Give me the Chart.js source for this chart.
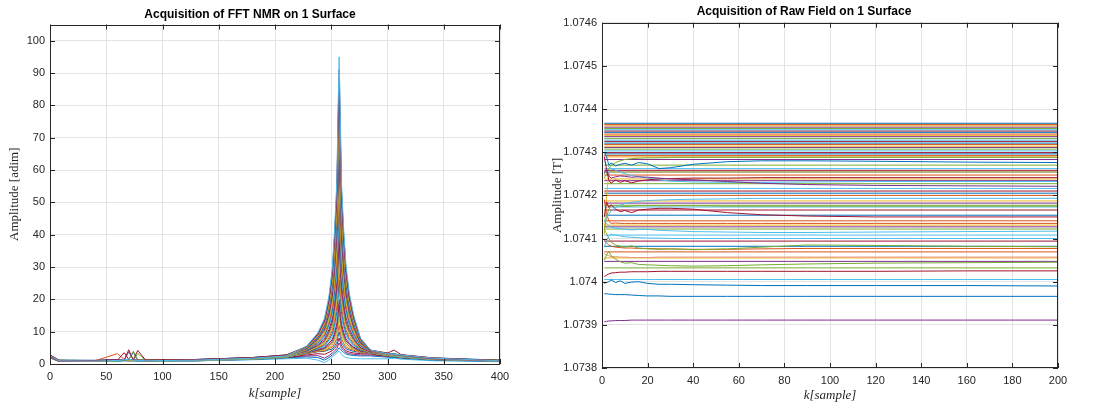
<!DOCTYPE html>
<html>
<head>
<meta charset="utf-8">
<script src="https://cdn.jsdelivr.net/npm/chart.js@4.4.0/dist/chart.umd.min.js"></script>
<style>
  html, body { margin: 0; padding: 0; background: #fff; }
  #wrap { position: relative; width: 1101px; height: 405px; }
  .box { position: absolute; top: 0; height: 405px; }
  #leftBox { left: 0; width: 550px; }
  #rightBox { left: 550px; width: 551px; }
</style>
</head>
<body>
<div id="wrap">
  <div class="box" id="leftBox"><canvas id="fftChart"></canvas></div>
  <div class="box" id="rightBox"><canvas id="rawChart"></canvas></div>
</div>
<script>
// ---- left plot: FFT NMR, sample positions shared by every line
const fftK = [0, 3, 8, 40, 60, 66, 70, 74, 78, 85, 130, 180, 210,
              228, 238, 244, 248, 251, 253, 255, 256, 257, 258, 259, 261, 263, 266, 270, 276, 285,
              300, 306, 312, 340, 400];

const fftLine01 = [2.5,2.0,1.0,0.9,1.1,1.3,1.5,1.2,1.1,1.0,1.2,1.8,2.5,  5.5,9.6,14.1,21.1,29.9,41.9,56.8,77.7,95,77.7,56.8,41.9,30.9,22,15,8,4.3,  3.2,3.0,2.8,1.8,1.0];
const fftLine02 = [2.8,2.2,1.1,1.0,1.2,3.5,1.4,1.3,4.2,1.2,1.4,2.0,2.8,  5.4,9.3,13.6,20.3,28.7,40.2,54.5,74.5,91,74.5,54.5,40.2,29.7,21.1,14.5,7.8,4.3,  3.4,4.3,2.9,1.9,1.1];
const fftLine03 = [2.2,1.8,0.9,1.1,1.4,1.2,3.8,1.3,1.2,1.1,1.3,1.9,2.7,  5.3,9.1,13.2,19.7,27.8,38.9,52.7,72,88,72,52.7,38.9,28.7,20.5,14.1,7.6,4.2,  3.2,3.0,2.7,1.7,1.0];
const fftLine04 = [2.6,2.0,1.2,1.0,1.0,1.2,1.3,4.0,1.3,1.2,1.2,1.7,2.4,  5.2,8.9,12.9,19.1,26.9,37.6,50.9,69.6,85,69.6,50.9,37.6,27.8,19.9,13.7,7.5,4.2,  3.1,2.9,2.7,1.7,1.1];
const fftLine05 = [2.4,1.9,1.0,0.9,1.1,1.3,1.2,1.1,1.2,1.1,1.3,1.9,2.6,  5.1,8.7,12.5,18.5,26,36.3,49.1,67.1,82,67.1,49.1,36.3,26.9,19.3,13.3,7.3,4.2,  3.2,3.0,2.7,1.8,1.0];
const fftLine06 = [2.1,1.7,0.8,1.0,3.2,1.4,1.2,1.3,1.1,1.0,1.2,1.8,2.5,  5.1,8.5,12.1,17.9,25.1,35,47.4,64.7,79,64.7,47.4,35,26,18.6,12.9,7.2,4.1,  3.0,2.8,2.6,1.6,1.0];
const fftLine07 = [2.7,2.1,1.1,1.1,1.2,1.1,1.3,3.6,1.2,1.1,1.4,2.0,2.7,  5.0,8.3,11.8,17.3,24.2,33.8,45.6,62.2,76,62.2,45.6,33.8,25,18,12.5,7,4.1,  3.3,3.1,2.8,1.8,1.1];
const fftLine08 = [2.3,1.8,0.9,0.9,1.0,1.2,1.1,1.2,1.3,1.0,1.1,1.7,2.4,  4.9,8.1,11.4,16.8,23.3,32.5,43.8,59.8,73,59.8,43.8,32.5,24.1,17.4,12.1,6.9,4.1,  3.0,2.8,2.5,1.6,1.0];
const fftLine09 = [2.5,2.0,1.0,1.0,1.1,1.3,4.4,1.2,1.1,1.2,1.3,1.9,2.6,  4.8,7.9,11.1,16.2,22.5,31.2,42.1,57.3,70,57.3,42.1,31.2,23.2,16.8,11.7,6.7,4.0,  3.2,3.0,2.7,1.7,1.1];
const fftLine10 = [2.0,1.6,0.8,0.9,1.2,1.1,1.2,1.3,1.2,1.0,1.2,1.8,2.5,  4.7,7.6,10.6,15.4,21.3,29.5,39.7,54.1,66,54.1,39.7,29.5,22,16,11.2,6.5,4.0,  3.1,2.8,2.6,1.6,1.0];
const fftLine11 = [2.6,2.1,1.1,1.0,1.0,1.2,1.3,1.1,3.3,1.1,1.3,1.9,2.6,  4.6,7.3,10.1,14.6,20.1,27.8,37.4,50.8,62,50.8,37.4,27.8,20.7,15.1,10.7,6.3,4.0,  3.2,3.0,2.8,1.8,1.1];
const fftLine12 = [2.2,1.7,0.9,1.1,1.1,1.3,1.2,1.2,1.1,1.1,1.2,1.7,2.4,  4.5,7.1,9.6,13.8,18.9,26.1,35,47.5,58,47.5,35,26.1,19.5,14.3,10.2,6.1,3.9,  2.9,2.7,2.5,1.6,1.0];
const fftLine13 = [2.4,1.9,1.0,1.0,1.2,1.2,1.1,1.3,1.2,1.0,1.3,1.8,2.5,  4.4,6.8,9.1,13,17.7,24.4,32.7,44.3,54,44.3,32.7,24.4,18.3,13.5,9.7,5.9,3.9,  3.1,2.9,2.6,1.7,1.1];
const fftLine14 = [2.7,2.2,1.2,1.1,1.3,1.4,1.2,1.2,1.3,1.2,1.4,2.0,2.8,  4.3,6.5,8.7,12.3,16.5,22.7,30.3,41,50,41,30.3,22.7,17,12.6,9.1,5.7,3.8,  3.3,3.1,2.8,1.9,1.2];
const fftLine15 = [2.1,1.6,0.8,0.9,1.0,1.1,1.2,1.1,1.0,1.0,1.1,1.6,2.3,  4.2,6.2,8.2,11.5,15.3,21,27.9,37.8,46,37.8,27.9,21,15.8,11.8,8.6,5.4,3.8,  2.9,2.6,2.4,1.5,0.9];
const fftLine16 = [2.3,1.8,1.0,1.0,1.1,1.2,1.3,1.2,1.1,1.1,1.2,1.7,2.4,  4.1,6.0,7.7,10.7,14.1,19.2,25.6,34.5,42,34.5,25.6,19.2,14.6,11,8.1,5.2,3.7,  3.0,2.8,2.5,1.6,1.0];
const fftLine17 = [2.5,2.0,1.1,1.1,1.2,1.1,1.2,1.3,1.2,1.1,1.3,1.8,2.5,  4.0,5.7,7.2,9.9,13,17.5,23.2,31.2,38,31.2,23.2,17.5,13.3,10.1,7.6,5.0,3.7,  3.1,2.9,2.6,1.7,1.1];
const fftLine18 = [2.0,1.5,0.8,0.9,1.0,1.1,1.1,1.0,1.1,0.9,1.1,1.6,2.2,  3.9,5.5,6.9,9.3,12.1,16.2,21.5,28.8,35,28.8,21.5,16.2,12.4,9.5,7.2,4.9,3.7,  2.8,2.5,2.3,1.5,0.9];
const fftLine19 = [2.4,1.9,1.0,1.0,1.1,1.2,1.2,1.2,1.2,1.0,1.2,1.7,2.3,  3.8,5.3,6.5,8.7,11.2,15,19.7,26.3,32,26.3,19.7,15,11.5,8.9,6.8,4.7,3.6,  3.0,2.7,2.5,1.6,1.0];
const fftLine20 = [2.2,1.7,0.9,1.0,1.1,1.1,1.2,1.1,1.1,1.0,1.1,1.6,2.2,  3.7,5.1,6.1,8.1,10.3,13.7,17.9,23.9,29,23.9,17.9,13.7,10.6,8.2,6.4,4.6,3.6,  2.9,2.6,2.4,1.5,0.9];
const fftLine21 = [2.6,2.0,1.1,1.0,1.0,1.2,1.1,1.2,1.1,1.1,1.2,1.7,2.3,  3.6,4.9,5.8,7.5,9.4,12.4,16.2,21.4,26,21.4,16.2,12.4,9.6,7.6,6.0,4.4,3.6,  2.9,2.7,2.4,1.6,1.0];
const fftLine22 = [2.1,1.6,0.9,0.9,1.0,1.1,1.0,1.1,1.0,0.9,1.0,1.5,2.1,  3.5,4.7,5.4,7.0,8.5,11.1,14.4,19,23,19,14.4,11.1,8.7,7.0,5.6,4.3,3.5,  2.7,2.4,2.2,1.4,0.9];
const fftLine23 = [2.3,1.8,1.0,1.0,1.1,1.2,1.3,1.2,1.1,1.1,1.2,1.7,2.4,  3.5,4.5,5.1,6.4,7.6,9.8,12.6,16.5,20,16.5,12.6,9.8,7.8,6.4,5.2,4.1,3.5,  2.8,2.6,2.3,1.5,1.0];
const fftLine24 = [2.5,2.0,1.1,1.1,1.2,1.1,1.2,1.3,1.2,1.1,1.3,1.8,2.5,  3.4,4.3,4.8,6.0,7.0,9.0,11.5,14.9,18,14.9,11.5,9.0,7.2,6.0,5.0,4.0,3.5,  2.9,2.7,2.4,1.6,1.1];
const fftLine25 = [2.0,1.5,0.8,0.9,1.0,1.1,1.1,1.0,1.1,0.9,1.1,1.5,2.1,  3.4,4.2,4.6,5.6,6.4,8.1,10.3,13.3,16,13.3,10.3,8.1,6.6,5.5,4.7,3.9,3.4,  2.6,2.4,2.1,1.4,0.9];
const fftLine26 = [2.4,1.9,1.0,1.0,1.1,1.2,1.2,1.2,1.2,1.0,1.2,1.7,2.3,  3.3,4.1,4.3,5.2,5.8,7.3,9.1,11.6,14,11.6,9.1,7.3,6.0,5.1,4.5,3.8,3.4,  2.7,2.5,2.2,1.5,1.0];
const fftLine27 = [2.2,1.7,0.9,1.0,1.1,1.1,1.2,1.1,1.1,1.0,1.1,1.6,2.2,  3.2,3.9,4.1,4.8,5.2,6.4,7.9,10,12,10,7.9,6.4,5.3,4.7,4.2,3.7,3.4,  2.6,2.4,2.1,1.4,0.9];
const fftLine28 = [2.6,2.0,1.1,1.0,1.0,1.2,1.1,1.2,1.1,1.1,1.2,1.7,2.3,  3.2,3.8,3.9,4.4,4.6,5.6,6.7,8.4,10,8.4,6.7,5.6,4.7,4.3,3.9,3.6,3.4,  2.6,2.5,2.2,1.5,1.0];
const fftLine29 = [2.1,1.6,0.9,0.9,1.0,1.1,1.0,1.1,1.0,0.9,1.0,1.5,2.0,  2.8,3.2,3.0,3.6,4.2,4.8,5.8,6.9,8,6.9,5.8,4.8,4.1,3.7,3.4,3.2,3.1,  2.4,2.3,2.0,1.4,0.9];
const fftLine30 = [2.3,1.8,1.0,1.0,1.1,1.2,1.3,1.2,1.1,1.1,1.2,1.6,2.1,  2.5,2.6,1.8,2.6,3.4,4.0,4.8,5.7,6.5,5.8,5.0,4.2,3.6,3.2,3.0,2.8,2.8,  2.4,2.3,2.1,1.4,0.9];
const fftLine31 = [2.0,1.5,0.8,0.8,0.9,1.0,1.0,1.0,0.9,0.9,1.0,1.4,1.9,  2.2,2.0,1.2,2.0,2.8,3.4,4.0,4.6,5.0,4.7,4.2,3.6,3.1,2.8,2.6,2.5,2.5,  2.1,2.0,1.8,1.2,0.8];
const fftLine32 = [2.0,1.5,0.8,0.8,0.9,1.0,1.0,1.0,0.9,0.9,1.0,1.3,1.6,  1.8,1.2,0.4,1.3,2.2,2.8,3.4,3.8,4.0,3.7,3.0,2.4,2.0,1.8,1.7,1.6,1.6,  1.6,1.8,1.5,1.0,0.7];

const fftXTicks = [0, 50, 100, 150, 200, 250, 300, 350, 400];
const fftYTicks = [0, 10, 20, 30, 40, 50, 60, 70, 80, 90, 100];

// ---- right plot: raw field, sample positions for the lines that settle
const rawK = [1, 2, 3, 4, 6, 8, 10, 13, 16, 20, 25, 30, 40, 55, 70, 90, 120, 160, 200];

const rawLine01 = [1.0743, 1.07429, 1.07427, 1.074275, 1.074268, 1.074272, 1.074274, 1.07427, 1.074276, 1.074273, 1.074262, 1.074264, 1.074272, 1.074278, 1.07428, 1.07428, 1.074279, 1.074277, 1.074276];
const rawLine02 = [1.07425, 1.074262, 1.074245, 1.07424, 1.074243, 1.074245, 1.074244, 1.074242, 1.074243, 1.074242, 1.07424, 1.074238, 1.074236, 1.074232, 1.074228, 1.074225, 1.074223, 1.074222, 1.074221];
const rawLine03 = [1.07429, 1.07426, 1.074235, 1.074228, 1.074236, 1.07423, 1.074234, 1.074229, 1.074233, 1.074236, 1.074238, 1.074239, 1.07424, 1.07424, 1.074241, 1.074241, 1.074241, 1.074241, 1.074241];
const rawLine04 = [1.07428, 1.074272, 1.074266, 1.074262, 1.074258, 1.074254, 1.07425, 1.074246, 1.074243, 1.07424, 1.074236, 1.074233, 1.074231, 1.07423, 1.07423, 1.074231, 1.074232, 1.074232, 1.074232];
const rawLine05 = [1.07424, 1.07425, 1.074262, 1.07427, 1.074276, 1.07428, 1.074283, 1.074285, 1.074286, 1.074287, 1.074287, 1.074288, 1.074288, 1.074288, 1.074288, 1.074288, 1.074288, 1.074288, 1.074288];
const rawLine06 = [1.07414, 1.074148, 1.074156, 1.074164, 1.074172, 1.074177, 1.074181, 1.074184, 1.074186, 1.074188, 1.074189, 1.07419, 1.074191, 1.074192, 1.074193, 1.074193, 1.074193, 1.074193, 1.074193];
const rawLine07 = [1.07415, 1.074185, 1.074172, 1.074178, 1.074168, 1.074162, 1.074165, 1.07416, 1.074166, 1.074168, 1.07417, 1.07417, 1.074168, 1.07416, 1.074155, 1.074152, 1.07415, 1.07415, 1.07415];
const rawLine08 = [1.07412, 1.07415, 1.074168, 1.074175, 1.074176, 1.074175, 1.074174, 1.074175, 1.074176, 1.074176, 1.074176, 1.074176, 1.074176, 1.074175, 1.074175, 1.074175, 1.074175, 1.074175, 1.074175];
const rawLine09 = [1.07414, 1.074135, 1.07413, 1.074126, 1.074124, 1.074123, 1.074121, 1.07412, 1.074121, 1.074121, 1.074119, 1.074118, 1.074116, 1.074115, 1.074114, 1.074114, 1.074115, 1.074116, 1.074117];
const rawLine10 = [1.07408, 1.074095, 1.074105, 1.07411, 1.074108, 1.074106, 1.074104, 1.074103, 1.074102, 1.074101, 1.074101, 1.0741, 1.0741, 1.0741, 1.0741, 1.0741, 1.0741, 1.0741, 1.0741];
const rawLine11 = [1.07412, 1.074112, 1.0741, 1.074092, 1.074085, 1.074082, 1.07408, 1.074083, 1.074078, 1.074076, 1.074075, 1.074076, 1.074074, 1.074076, 1.07408, 1.074085, 1.074084, 1.074082, 1.074081];
const rawLine12 = [1.07405, 1.074062, 1.07407, 1.07406, 1.074052, 1.074046, 1.074043, 1.074044, 1.07404, 1.074039, 1.074038, 1.074037, 1.074036, 1.074037, 1.074039, 1.074041, 1.074043, 1.074044, 1.074045];
const rawLine13 = [1.074095, 1.07409, 1.074085, 1.074082, 1.07408, 1.074079, 1.074078, 1.074078, 1.074077, 1.074077, 1.074076, 1.074076, 1.074075, 1.074075, 1.074076, 1.074077, 1.074077, 1.074077, 1.074077];
const rawLine14 = [1.074065, 1.074062, 1.07406, 1.074058, 1.074058, 1.074057, 1.074057, 1.074056, 1.074056, 1.074056, 1.074057, 1.074057, 1.074057, 1.074057, 1.074057, 1.074057, 1.074057, 1.074057, 1.074057];
const rawLine15 = [1.074012, 1.074015, 1.074018, 1.07402, 1.074021, 1.074022, 1.074022, 1.074023, 1.074023, 1.074023, 1.074024, 1.074024, 1.074024, 1.074024, 1.074024, 1.074024, 1.074024, 1.074025, 1.074025];
const rawLine16 = [1.073996, 1.073998, 1.074, 1.074004, 1.073998, 1.074002, 1.073996, 1.073999, 1.074, 1.073996, 1.073994, 1.073994, 1.073993, 1.073992, 1.073991, 1.073991, 1.073991, 1.073991, 1.07399];
const rawLine17 = [1.073972, 1.073972, 1.073971, 1.073971, 1.07397, 1.07397, 1.07397, 1.073969, 1.073968, 1.073967, 1.073967, 1.073966, 1.073966, 1.073966, 1.073966, 1.073966, 1.073966, 1.073966, 1.073966];
const rawLine18 = [1.073907, 1.073908, 1.073909, 1.073909, 1.07391, 1.07391, 1.07391, 1.073911, 1.073911, 1.073911, 1.073911, 1.073911, 1.073911, 1.073911, 1.073911, 1.073911, 1.073911, 1.073911, 1.073911];
const rawLine19 = [1.07411, 1.0742, 1.07425, 1.074255, 1.074254, 1.074254, 1.074254, 1.074254, 1.074254, 1.074254, 1.074254, 1.074254, 1.074254, 1.074254, 1.074254, 1.074254, 1.074254, 1.074254, 1.074254];
const rawLine20 = [1.07419, 1.07416, 1.07414, 1.074135, 1.074136, 1.074135, 1.074135, 1.074135, 1.074135, 1.074135, 1.074135, 1.074135, 1.074135, 1.074135, 1.074135, 1.074135, 1.074135, 1.074135, 1.074135];

// lines that stay flat from the first to the last sample
const rawFlatLevels = [
  1.074367, 1.074364, 1.074361, 1.074358, 1.074355, 1.074352, 1.074349, 1.074346,
  1.074342, 1.074339, 1.074336, 1.074332, 1.074328, 1.074325, 1.074321, 1.074318,
  1.074314, 1.074311, 1.074307, 1.074303, 1.074299, 1.074296, 1.074292, 1.074289,
  1.074283, 1.07427, 1.074262, 1.074258, 1.074254, 1.074247, 1.074238, 1.074234,
  1.074227, 1.074216, 1.07421, 1.074205, 1.0742, 1.074187, 1.074182, 1.074177,
  1.074173, 1.074166, 1.074154, 1.074141, 1.074131, 1.074127, 1.074122, 1.074108,
  1.074094, 1.074082, 1.074069, 1.074055, 1.074047, 1.074032, 1.074005
];

const rawXTicks = [0, 20, 40, 60, 80, 100, 120, 140, 160, 180, 200];
const rawYTicks = [1.0738, 1.0739, 1.074, 1.0741, 1.0742, 1.0743, 1.0744, 1.0745, 1.0746];

// MATLAB default line colours
const matlabColors = ['#0072BD', '#D95319', '#EDB120', '#7E2F8E', '#77AC30', '#4DBEEE', '#A2142F'];
const fftColors = ['#4DBEEE', '#A2142F', '#7E2F8E', '#77AC30', '#EDB120', '#D95319', '#0072BD', '#4DBEEE',
                   '#A2142F', '#7E2F8E', '#77AC30', '#EDB120', '#D95319', '#0072BD', '#4DBEEE', '#A2142F',
                   '#7E2F8E', '#77AC30', '#EDB120', '#D95319', '#0072BD', '#4DBEEE', '#A2142F', '#7E2F8E',
                   '#77AC30', '#EDB120', '#D95319', '#0072BD', '#A2142F', '#7E2F8E', '#0072BD', '#4DBEEE'];
const rawColors = ['#0072BD', '#7E2F8E', '#A2142F', '#4DBEEE', '#77AC30', '#4DBEEE', '#A2142F', '#77AC30',
                   '#4DBEEE', '#4DBEEE', '#77AC30', '#77AC30', '#D95319', '#E8967A', '#A2142F', '#0072BD',
                   '#0072BD', '#7E2F8E', '#EDB120', '#D95319'];

const fftSeries = [fftLine01, fftLine02, fftLine03, fftLine04, fftLine05, fftLine06, fftLine07, fftLine08,
                   fftLine09, fftLine10, fftLine11, fftLine12, fftLine13, fftLine14, fftLine15, fftLine16,
                   fftLine17, fftLine18, fftLine19, fftLine20, fftLine21, fftLine22, fftLine23, fftLine24,
                   fftLine25, fftLine26, fftLine27, fftLine28, fftLine29, fftLine30, fftLine31, fftLine32];
const rawSeries = [rawLine01, rawLine02, rawLine03, rawLine04, rawLine05, rawLine06, rawLine07, rawLine08,
                   rawLine09, rawLine10, rawLine11, rawLine12, rawLine13, rawLine14, rawLine15, rawLine16,
                   rawLine17, rawLine18, rawLine19, rawLine20];

Chart.defaults.font.family = "'Liberation Sans', Arial, sans-serif";
Chart.defaults.color = '#262626';

// box round the axes and inward tick marks on all four sides, like MATLAB
const matlabFrame = {
    id: 'matlabFrame',
    afterDatasetsDraw(chart) {
        const { ctx, chartArea: a, scales } = chart;
        ctx.save();
        ctx.strokeStyle = '#262626';
        ctx.lineWidth = 1;
        ctx.beginPath();
        scales.x.ticks.forEach(t => {
            const px = Math.round(scales.x.getPixelForValue(t.value)) + 0.5;
            ctx.moveTo(px, a.bottom); ctx.lineTo(px, a.bottom - 5);
            ctx.moveTo(px, a.top); ctx.lineTo(px, a.top + 5);
        });
        scales.y.ticks.forEach(t => {
            const py = Math.round(scales.y.getPixelForValue(t.value)) + 0.5;
            ctx.moveTo(a.left, py); ctx.lineTo(a.left + 5, py);
            ctx.moveTo(a.right, py); ctx.lineTo(a.right - 5, py);
        });
        ctx.stroke();
        ctx.strokeRect(Math.round(a.left) + 0.5, Math.round(a.top) + 0.5,
                       Math.round(a.width) - 1, Math.round(a.height) - 1);
        ctx.restore();
    }
};

function toPoints(xs, ys) {
    return ys.map((y, i) => ({ x: xs[i], y: y }));
}

function lineSet(points, color) {
    return {
        data: points,
        borderColor: color,
        borderWidth: 1,
        pointRadius: 0,
        fill: false,
        tension: 0
    };
}

function axesOptions(o) {
    return {
        x: {
            type: 'linear',
            min: o.xMin, max: o.xMax,
            afterBuildTicks: s => { s.ticks = o.xTicks.map(v => ({ value: v })); },
            afterFit: s => { s.height = o.xHeight; },
            grid: { color: '#e3e3e3', drawTicks: false },
            border: { display: false },
            ticks: { padding: 6, font: { size: 11 }, color: '#262626', maxRotation: 0 },
            title: {
                display: true, text: 'k[sample]', color: '#262626',
                font: { family: "'Liberation Serif', serif", size: 13, style: 'italic' },
                padding: { top: 0, bottom: o.xTitlePad }
            }
        },
        y: {
            type: 'linear',
            min: o.yMin, max: o.yMax,
            afterBuildTicks: s => { s.ticks = o.yTicks.map(v => ({ value: v })); },
            afterFit: s => { s.width = o.yWidth; },
            grid: { color: '#e3e3e3', drawTicks: false },
            border: { display: false },
            ticks: { padding: 5, font: { size: 11 }, color: '#262626', callback: o.yFormat },
            title: {
                display: true, text: o.yTitle, color: '#262626',
                font: { family: "'Liberation Serif', serif", size: 13 },
                padding: { top: o.yTitlePad, bottom: 0 }
            }
        }
    };
}

function initFftChart() {
    const ctx = document.getElementById('fftChart').getContext('2d');
    const datasets = fftSeries.map((ys, i) => lineSet(toPoints(fftK, ys), fftColors[i % fftColors.length]));
    new Chart(ctx, {
        type: 'line',
        data: { datasets: datasets },
        options: {
            responsive: true,
            maintainAspectRatio: false,
            animation: false,
            layout: { padding: { top: 0, right: 50, bottom: 0, left: 0 } },
            plugins: {
                legend: { display: false },
                tooltip: { enabled: false },
                title: {
                    display: true, text: 'Acquisition of FFT NMR on 1 Surface', color: '#000',
                    font: { size: 12, weight: 'bold' },
                    padding: { top: 7.5, bottom: 2.6 }
                }
            },
            scales: axesOptions({
                xMin: 0, xMax: 400, xTicks: fftXTicks, xHeight: 41, xTitlePad: 4,
                yMin: 0, yMax: 105, yTicks: fftYTicks, yWidth: 50, yTitlePad: 7,
                yTitle: 'Amplitude [adim]',
                yFormat: v => String(v)
            })
        },
        plugins: [matlabFrame]
    });
}

function initRawChart() {
    const ctx = document.getElementById('rawChart').getContext('2d');
    const first = rawK[0];
    const last = rawK[rawK.length - 1];
    const datasets = rawSeries.map((ys, i) => lineSet(toPoints(rawK, ys), rawColors[i % rawColors.length]));
    rawFlatLevels.forEach((lvl, i) => {
        datasets.push(lineSet([{ x: first, y: lvl }, { x: last, y: lvl }], matlabColors[i % matlabColors.length]));
    });
    new Chart(ctx, {
        type: 'line',
        data: { datasets: datasets },
        options: {
            responsive: true,
            maintainAspectRatio: false,
            animation: false,
            layout: { padding: { top: 0, right: 43, bottom: 0, left: 0 } },
            plugins: {
                legend: { display: false },
                tooltip: { enabled: false },
                title: {
                    display: true, text: 'Acquisition of Raw Field on 1 Surface', color: '#000',
                    font: { size: 12, weight: 'bold' },
                    padding: { top: 4.5, bottom: 3.8 }
                }
            },
            scales: axesOptions({
                xMin: 0, xMax: 200, xTicks: rawXTicks, xHeight: 37, xTitlePad: 2,
                yMin: 1.0738, yMax: 1.0746, yTicks: rawYTicks, yWidth: 52, yTitlePad: 0,
                yTitle: 'Amplitude [T]',
                yFormat: v => String(Number(v.toFixed(4)))
            })
        },
        plugins: [matlabFrame]
    });
}

initFftChart();
initRawChart();
</script>
</body>
</html>
